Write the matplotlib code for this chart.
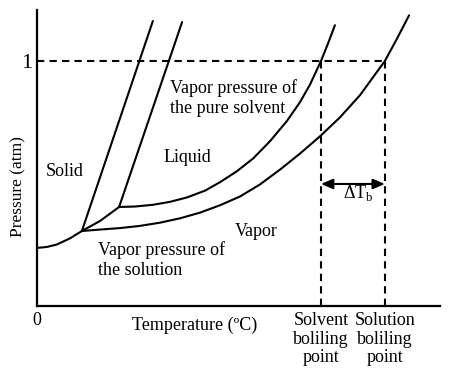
import matplotlib
matplotlib.use("Agg")
import matplotlib.pyplot as plt

plt.rcParams['font.family'] = ['Liberation Serif', 'DejaVu Serif']
plt.rcParams['mathtext.fontset'] = 'custom'
plt.rcParams['mathtext.rm'] = 'Liberation Serif'

# ---- data (temperature in arbitrary units, pressure in atm) ----
sub_T = [0, 3.5, 7.0, 11.6, 15.8, 22.2, 28.9]
sub_P = [0.237, 0.241, 0.251, 0.276, 0.306, 0.347, 0.404]

fus_solution_T = [15.8, 40.8]
fus_solution_P = [0.306, 1.163]
fus_solvent_T = [28.9, 51.1]
fus_solvent_P = [0.404, 1.159]

vap_solvent_T = [28.9, 34.5, 40.8, 46.8, 52.8, 59.2, 64.4, 70.4, 76.1, 82.0,
                 88.0, 92.6, 96.1, 100.0, 102.5, 104.9]
vap_solvent_P = [0.404, 0.406, 0.413, 0.425, 0.443, 0.471, 0.505, 0.550, 0.602,
                 0.672, 0.755, 0.832, 0.903, 1.0, 1.072, 1.146]

vap_solution_T = [15.8, 22.2, 29.2, 36.3, 43.3, 50.4, 57.4, 64.4, 71.5, 78.5,
                  85.6, 92.6, 99.6, 106.7, 113.7, 122.5, 126.8, 131.0]
vap_solution_P = [0.306, 0.312, 0.318, 0.327, 0.340, 0.358, 0.381, 0.411, 0.447,
                  0.496, 0.557, 0.622, 0.692, 0.770, 0.860, 1.0, 1.092, 1.186]

bp_solvent = 100.0
bp_solution = 122.5
p_atm = 1.0

x_tick_labels = ['0', 'Solvent\nboliling\npoint', 'Solution\nboliling\npoint']

# ---- figure ----
fig = plt.figure(figsize=(4.5, 3.88), dpi=100)
ax = fig.add_axes([37/450, 82/388, 403/450, 296/388])
ax.set_xlim(0, 141.9)
ax.set_ylim(0, 1.208)

lw = 1.5
for T, P in [(sub_T, sub_P), (fus_solution_T, fus_solution_P),
             (fus_solvent_T, fus_solvent_P), (vap_solvent_T, vap_solvent_P),
             (vap_solution_T, vap_solution_P)]:
    ax.plot(T, P, color='black', lw=lw, solid_capstyle='round', solid_joinstyle='round')

dash = (3.5, 2.5)
ax.plot([0, bp_solution], [p_atm, p_atm], color='black', lw=lw, dashes=dash)
ax.plot([bp_solvent, bp_solvent], [0, p_atm], color='black', lw=lw, dashes=dash)
ax.plot([bp_solution, bp_solution], [0, p_atm], color='black', lw=lw, dashes=dash)

ax.annotate('', xy=(bp_solution, 0.498), xytext=(bp_solvent, 0.498),
            arrowprops=dict(arrowstyle='<|-|>,head_length=0.7,head_width=0.3',
                            color='black', lw=1.5, shrinkA=0, shrinkB=0))
ax.text(113.0, 0.461, 'ΔT$_\\mathrm{b}$', fontsize=13, ha='center', va='center')

for s in ['top', 'right']:
    ax.spines[s].set_visible(False)
for s in ['left', 'bottom']:
    ax.spines[s].set_linewidth(1.6)

ax.set_yticks([p_atm])
ax.set_yticklabels(['1'], fontsize=16)
ax.set_xticks([0, bp_solvent, bp_solution])
ax.set_xticklabels(x_tick_labels, fontsize=13, linespacing=1.15)
ax.tick_params(axis='both', length=0)
ax.tick_params(axis='y', pad=3.5)
ax.tick_params(axis='x', pad=4)

fs = 13
ax.text(3.2, 0.547, 'Solid', fontsize=fs, ha='left', va='center')
ax.text(44.5, 0.604, 'Liquid', fontsize=fs, ha='left', va='center')
ax.text(46.8, 0.849, 'Vapor pressure of\nthe pure solvent', fontsize=fs,
        ha='left', va='center', linespacing=1.2)
ax.text(69.7, 0.302, 'Vapor', fontsize=fs, ha='left', va='center')
ax.text(21.5, 0.188, 'Vapor pressure of\nthe solution', fontsize=fs,
        ha='left', va='center', linespacing=1.2)
ax.text(55.6, -0.078, 'Temperature (ºC)', fontsize=fs, ha='center', va='center',
        clip_on=False)
fig.text(18/450, 1 - 187/388, 'Pressure (atm)', fontsize=12.5, rotation=90,
         ha='center', va='center')

fig.savefig('out.png', dpi=100)
